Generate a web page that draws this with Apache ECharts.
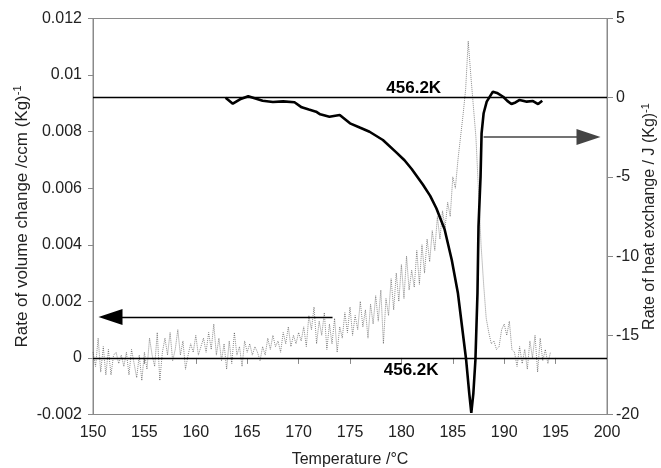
<!DOCTYPE html>
<html><head><meta charset="utf-8">
<script src="https://cdn.jsdelivr.net/npm/echarts@6/dist/echarts.min.js"></script>
<style>html,body{margin:0;padding:0;background:#fff}#c{width:661px;height:468px}</style>
</head><body><div id="c"></div>
<script>
// Temperature (°C) for the volume-change record (0.25 °C steps from 150)
var volStartT = 150, volStepT = 0.25;
// Rate of volume change, ccm/(Kg) — left axis
var volumeRate = [
 0.0002,-0.0003,0.0007,-0.0005,0.0004,-0.0006,0.0003,-0.0006,
 0.0001,0.0002,-0.0002,0.0001,-0.0003,0.0002,-0.0006,0.0003,
 -0.0002,-0.0007,0.0001,-0.0008,0.0002,-0.0004,0.0007,0.0001,
 -0.0003,0.0009,-0.0008,0.0002,0.0007,0.0001,0.0009,-0.0001,
 0.0003,0.0010,0.0001,0.0006,-0.0004,0.0001,0.0005,0.0002,
 0.0008,0.0001,0.0004,0.0007,0.0002,0.0009,0.0003,0.0012,
 0.0001,0.0007,-0.0001,0.0005,-0.0004,0.0006,-0.0002,0.0009,
 0.0001,0.0004,-0.0003,0.0006,0.0002,0.0005,0.0001,0.0004,
 0.0002,-0.0001,0.0004,0.0001,0.0007,0.0003,0.0008,0.0004,
 0.0006,0.0002,0.0009,0.0005,0.0011,0.0004,0.0008,0.0005,
 0.0009,0.0006,0.0011,0.0004,0.0015,0.0010,0.0018,0.0005,
 0.0013,0.0008,0.0016,0.0003,0.0012,0.0005,0.0014,0.0002,
 0.0011,0.0007,0.0016,0.0009,0.0018,0.0008,0.0015,0.0010,
 0.0020,0.0011,0.0017,0.0007,0.0019,0.0012,0.0022,0.0013,
 0.0024,0.0005,0.0021,0.0015,0.0028,0.0017,0.0030,0.0020,
 0.0033,0.0021,0.0036,0.0024,0.0031,0.0025,0.0038,0.0026,
 0.0040,0.0030,0.0042,0.0034,0.0045,0.0038,0.0050,0.0042,
 0.0052,0.0046,0.0055,0.0050,0.0064,0.0060,0.0070,0.0078,
 0.0086,0.0095,0.0112,0.0100,0.0089,0.0078,0.0059,0.0040,
 0.0026,0.0014,0.0009,0.0005,0.0006,0.0003,0.0004,0.0010,
 0.0012,0.0008,0.0013,0.0003,0.0002,-0.0003,0.0004,-0.0002,
 0.0003,-0.0004,0.0006,0.0000,0.0008,-0.0005,0.0007,-0.0001,
 0.0003,-0.0002,0.0002
];
// Rate of heat exchange, J/(Kg) — right axis
var heatT = [162.9,163.6,164.3,165.1,165.8,166.5,167.5,168.5,169.6,170.3,171.0,171.7,172.1,173.0,174.0,175.0,176.0,176.9,178.2,179.5,180.3,181.0,182.1,182.8,183.4,184.2,184.9,185.5,185.9,186.3,186.6,186.8,187.0,187.2,187.4,187.5,187.7,187.8,188.0,188.3,188.9,189.3,189.9,190.3,190.7,191.1,191.5,192.2,192.8,193.3,193.7];
var heatRate = [0.0,-0.38,-0.1,0.09,-0.05,-0.19,-0.27,-0.23,-0.29,-0.61,-0.75,-0.88,-1.05,-1.2,-1.09,-1.62,-1.9,-2.15,-2.67,-3.45,-3.95,-4.5,-5.5,-6.2,-6.98,-8.3,-10.25,-12.35,-14.46,-16.56,-18.66,-19.9,-18.66,-16.56,-12.35,-8.14,-4.98,-2.25,-0.98,-0.25,0.38,0.3,0.06,-0.2,-0.4,-0.3,-0.14,-0.25,-0.21,-0.4,-0.19];
var xTicks = {min:150, max:200, step:5};
var leftTicks = {min:-0.002, max:0.012, step:0.002};
var rightTicks = {min:-20, max:5, step:5};
var tempLabel = '456.2K';

var volData = volumeRate.map(function(v,i){return [volStartT + i*volStepT, v];});
var heatData = heatT.map(function(t,i){return [t, heatRate[i]];});

var axisGray = '#8a8a8a';
var txt = '#222';
var font = 'Liberation Sans, Arial, sans-serif';

var chart = echarts.init(document.getElementById('c'), null, {renderer:'canvas'});
chart.setOption({
  animation:false,
  backgroundColor:'#fff',
  textStyle:{fontFamily:font},
  grid:{left:93,right:54,top:18.5,bottom:53.5,containLabel:false,outerBoundsMode:'none',show:true,borderColor:axisGray,borderWidth:1},
  xAxis:{type:'value',min:xTicks.min,max:xTicks.max,interval:xTicks.step,
    name:'Temperature /°C',nameLocation:'middle',nameGap:37,nameMoveOverlap:false,
    nameTextStyle:{fontSize:16,color:txt,fontFamily:font,verticalAlign:'top'},
    axisLine:{lineStyle:{color:axisGray}},axisTick:{inside:false,length:6,lineStyle:{color:axisGray}},
    axisLabel:{fontSize:16,color:txt,margin:10,fontFamily:font},splitLine:{show:false}},
  yAxis:[
   {type:'value',min:leftTicks.min,max:leftTicks.max,interval:leftTicks.step,position:'left',
    name:'{a|Rate of volume change /ccm (Kg)}{s|-1}',nameLocation:'middle',nameGap:61,nameMoveOverlap:false,
    nameTextStyle:{color:txt,fontFamily:font,rich:{a:{fontSize:17,color:txt,fontFamily:font,lineHeight:19},s:{fontSize:11,color:txt,fontFamily:font,lineHeight:19,padding:[0,0,9,0]}}},
    axisLine:{show:true,lineStyle:{color:axisGray}},axisTick:{show:true,length:5,lineStyle:{color:axisGray}},
    axisLabel:{fontSize:16,color:txt,margin:11,fontFamily:font},splitLine:{show:false}},
   {type:'value',min:rightTicks.min,max:rightTicks.max,interval:rightTicks.step,position:'right',
    name:'{a|Rate of heat exchange / J (Kg)}{s|-1}',nameLocation:'middle',nameGap:34,nameRotate:90,nameMoveOverlap:false,
    nameTextStyle:{color:txt,fontFamily:font,rich:{a:{fontSize:16,color:txt,fontFamily:font,lineHeight:18},s:{fontSize:11,color:txt,fontFamily:font,lineHeight:18,padding:[0,0,9,0]}}},
    axisLine:{show:true,lineStyle:{color:axisGray}},axisTick:{show:true,length:6,lineStyle:{color:axisGray}},
    axisLabel:{fontSize:16,color:txt,margin:9,fontFamily:font},splitLine:{show:false}}
  ],
  series:[
   {type:'line',yAxisIndex:0,data:volData,showSymbol:false,symbol:'none',
    lineStyle:{color:'rgba(0,0,0,0.45)',width:1,type:'dotted'},silent:true,z:2,
    markLine:{silent:true,symbol:'none',label:{show:false},animation:false,
      data:[
        [{xAxis:xTicks.min,yAxis:0},{xAxis:xTicks.max,yAxis:0,lineStyle:{color:'#000',width:1.3,type:'solid'}}],
        [{coord:[173.3,0.00145],symbol:'none'},{coord:[151.7,0.00145],symbol:'triangle',symbolSize:[16,24]}]
      ],
      lineStyle:{color:'#000',width:1.3,type:'solid'}},
    markPoint:{silent:true,symbol:'circle',symbolSize:0,
      data:[{coord:[180.95,-0.00043],label:{show:true,formatter:tempLabel,fontSize:17,fontWeight:'bold',color:'#000',fontFamily:font}}]}
   },
   {type:'line',yAxisIndex:1,data:heatData,showSymbol:false,symbol:'none',
    lineStyle:{color:'#000',width:2.6},silent:true,z:3,
    markLine:{silent:true,symbol:'none',label:{show:false},animation:false,
      data:[
        [{xAxis:xTicks.min,yAxis:0},{xAxis:xTicks.max,yAxis:0}],
        [{coord:[188.0,-2.48],symbol:'none'},{coord:[198.2,-2.48],symbol:'triangle',symbolSize:[16,24],lineStyle:{color:'#444',width:1.5}}]
      ],
      lineStyle:{color:'#000',width:1.3,type:'solid'}},
    markPoint:{silent:true,symbol:'circle',symbolSize:0,
      data:[{coord:[181.2,0.6],label:{show:true,formatter:tempLabel,fontSize:17,fontWeight:'bold',color:'#000',fontFamily:font}}]}
   }
  ]
});
</script></body></html>
